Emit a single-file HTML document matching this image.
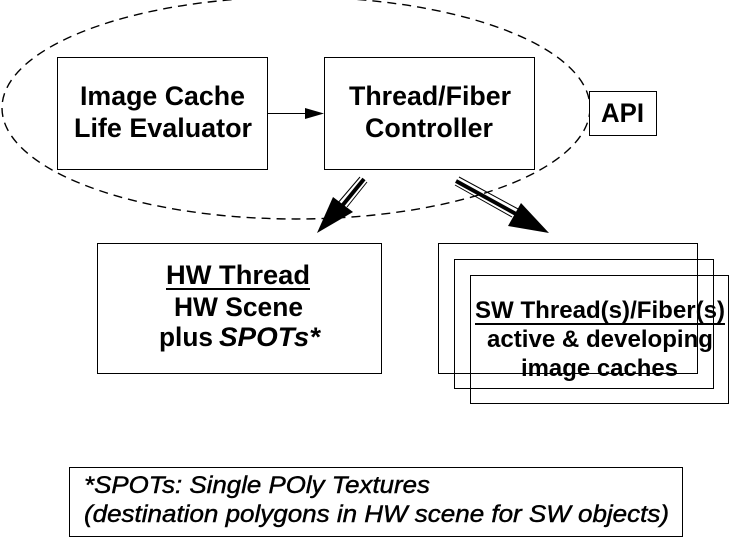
<!DOCTYPE html>
<html>
<head>
<meta charset="utf-8">
<style>
  html, body { margin: 0; padding: 0; background: #ffffff; }
  body { width: 730px; height: 537px; overflow: hidden; }
  svg { display: block; }
  .b { font-family: "Liberation Sans", Arial, sans-serif; font-weight: bold; fill: #000; }
  .i { font-family: "Liberation Sans", Arial, sans-serif; font-style: italic; fill: #000; stroke: #000; stroke-width: 0.45; }
</style>
</head>
<body>
<svg width="730" height="537" viewBox="0 0 730 537" xmlns="http://www.w3.org/2000/svg">
  <rect x="0" y="0" width="730" height="537" fill="#ffffff"/>

  <!-- dashed ellipse -->
  <ellipse cx="296" cy="108" rx="294" ry="111" fill="none" stroke="#000" stroke-width="1.4" stroke-dasharray="9 6"/>

  <!-- top boxes -->
  <rect x="57.5" y="57.5" width="210" height="112" fill="#fff" stroke="#000" stroke-width="1"/>
  <text class="b" x="80" y="105" font-size="27" textLength="165" lengthAdjust="spacingAndGlyphs">Image Cache</text>
  <text class="b" x="74" y="137" font-size="27" textLength="178" lengthAdjust="spacingAndGlyphs">Life Evaluator</text>

  <rect x="324.5" y="57.5" width="210" height="112" fill="#fff" stroke="#000" stroke-width="1"/>
  <text class="b" x="349" y="105" font-size="27" textLength="162" lengthAdjust="spacingAndGlyphs">Thread/Fiber</text>
  <text class="b" x="365" y="137" font-size="27" textLength="128" lengthAdjust="spacingAndGlyphs">Controller</text>

  <!-- API box -->
  <rect x="589.5" y="91.5" width="67" height="44" fill="#fff" stroke="#000" stroke-width="1"/>
  <text class="b" x="601" y="122" font-size="27" textLength="43" lengthAdjust="spacingAndGlyphs">API</text>

  <!-- horizontal arrow -->
  <line x1="268" y1="113.5" x2="308" y2="113.5" stroke="#000" stroke-width="1"/>
  <polygon points="324,113.5 305,108 305,119" fill="#000"/>

  <!-- left thick arrow -->
  <line x1="364" y1="179" x2="342" y2="206" stroke="#000" stroke-width="4"/>
  <line x1="360" y1="177" x2="337" y2="204" stroke="#000" stroke-width="1"/>
  <line x1="367" y1="182" x2="347" y2="207" stroke="#000" stroke-width="1"/>
  <polygon points="317,233 333,197 353,212" fill="#000"/>

  <!-- right thick arrow -->
  <line x1="456" y1="181" x2="516" y2="214" stroke="#000" stroke-width="4"/>
  <line x1="459" y1="177" x2="520" y2="210" stroke="#000" stroke-width="1"/>
  <line x1="455" y1="185" x2="512" y2="217" stroke="#000" stroke-width="1"/>
  <polygon points="549,233 521,203 508,226" fill="#000"/>

  <!-- HW box -->
  <rect x="97.5" y="243.5" width="284" height="130" fill="none" stroke="#000" stroke-width="1"/>
  <text class="b" x="166" y="284" font-size="27" textLength="144" lengthAdjust="spacingAndGlyphs">HW Thread</text>
  <line x1="166" y1="289" x2="310" y2="289" stroke="#000" stroke-width="2"/>
  <text class="b" x="174" y="316" font-size="27" textLength="129" lengthAdjust="spacingAndGlyphs">HW Scene</text>
  <text class="b" x="159" y="346" font-size="27" textLength="54" lengthAdjust="spacingAndGlyphs">plus</text>
  <text class="b" x="219" y="346" font-size="27" font-style="italic" textLength="101" lengthAdjust="spacingAndGlyphs">SPOTs*</text>

  <!-- SW text (drawn before rects so lines cross over) -->
  <text class="b" x="475" y="318" font-size="24" textLength="250" lengthAdjust="spacingAndGlyphs">SW Thread(s)/Fiber(s)</text>
  <line x1="475" y1="324" x2="725" y2="324" stroke="#000" stroke-width="2"/>
  <text class="b" x="487" y="347" font-size="24" textLength="226" lengthAdjust="spacingAndGlyphs">active &amp; developing</text>
  <text class="b" x="521" y="376" font-size="24" textLength="157" lengthAdjust="spacingAndGlyphs">image caches</text>

  <!-- stacked SW boxes -->
  <rect x="438.5" y="243.5" width="259" height="130" fill="none" stroke="#000" stroke-width="1"/>
  <rect x="454.5" y="259.5" width="259" height="129" fill="none" stroke="#000" stroke-width="1"/>
  <rect x="470.5" y="275.5" width="258" height="128" fill="none" stroke="#000" stroke-width="1"/>

  <!-- bottom footnote box -->
  <rect x="69.5" y="467.5" width="613" height="69" fill="none" stroke="#000" stroke-width="1"/>
  <text class="i" x="84" y="493" font-size="24" textLength="346" lengthAdjust="spacingAndGlyphs">*SPOTs: Single POly Textures</text>
  <text class="i" x="84" y="522" font-size="24" textLength="585" lengthAdjust="spacingAndGlyphs">(destination polygons in HW scene for SW objects)</text>
</svg>
</body>
</html>
